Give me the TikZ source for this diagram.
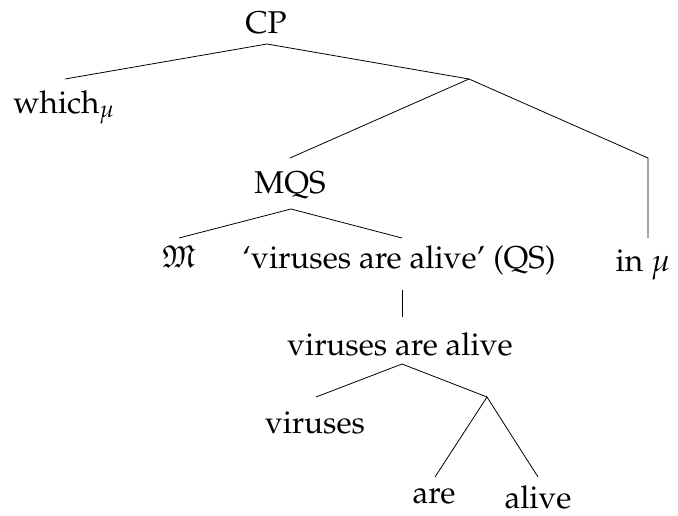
\documentclass[tikz,border=0pt]{standalone}
\usepackage[T1]{fontenc}
\usepackage{mathpazo}
\usepackage{amssymb}
\tikzset{
  lbl/.style={anchor=base, inner sep=0pt, font=\fontsize{31.5pt}{36pt}\selectfont},
  edge/.style={line width=0.8pt}
}
\begin{document}
\begin{tikzpicture}[x=1pt,y=-1pt]
\useasboundingbox (0,0) rectangle (678,515);
% labels
\node[lbl] (cp) at (266,33) {CP};
\node[lbl] (which) at (64,113) {which$_{\mu}$};
\node[lbl] (mqs) at (290,193) {MQS};
\node[lbl] (m) at (179,267) {$\mathfrak{M}$};
\node[lbl] (qs) at (399,268) {`viruses are alive' (QS)};
\node[lbl] (inmu) at (643,271) {in $\mu$};
\node[lbl] (vaa) at (400,355) {viruses are alive};
\node[lbl] (vir) at (315,433) {viruses};
\node[lbl] (are) at (434,503) {are};
\node[lbl] (alive) at (538,508) {alive};
% connector ends
\coordinate (cpB) at (267,44);
\coordinate (whichT) at (65,79);
\coordinate (rb) at (469,79);
\coordinate (mqsT) at (290,158);
\coordinate (ib) at (648,158);
\coordinate (inmuT) at (648,238);
\coordinate (mqsB) at (291,209);
\coordinate (mT) at (179,238);
\coordinate (qsT) at (402,238);
\coordinate (qsB) at (402,290);
\coordinate (vaaT) at (402,317);
\coordinate (vaaB) at (402,364);
\coordinate (virT) at (316,397);
\coordinate (vp) at (487,397);
\coordinate (areT) at (435,477);
\coordinate (aliveT) at (538,477);
% connectors
\draw[edge] (whichT) -- (cpB) -- (rb);
\draw[edge] (mqsT) -- (rb) -- (ib) -- (inmuT);
\draw[edge] (mT) -- (mqsB) -- (qsT);
\draw[edge] (qsB) -- (vaaT);
\draw[edge] (virT) -- (vaaB) -- (vp);
\draw[edge] (areT) -- (vp) -- (aliveT);
\end{tikzpicture}
\end{document}
